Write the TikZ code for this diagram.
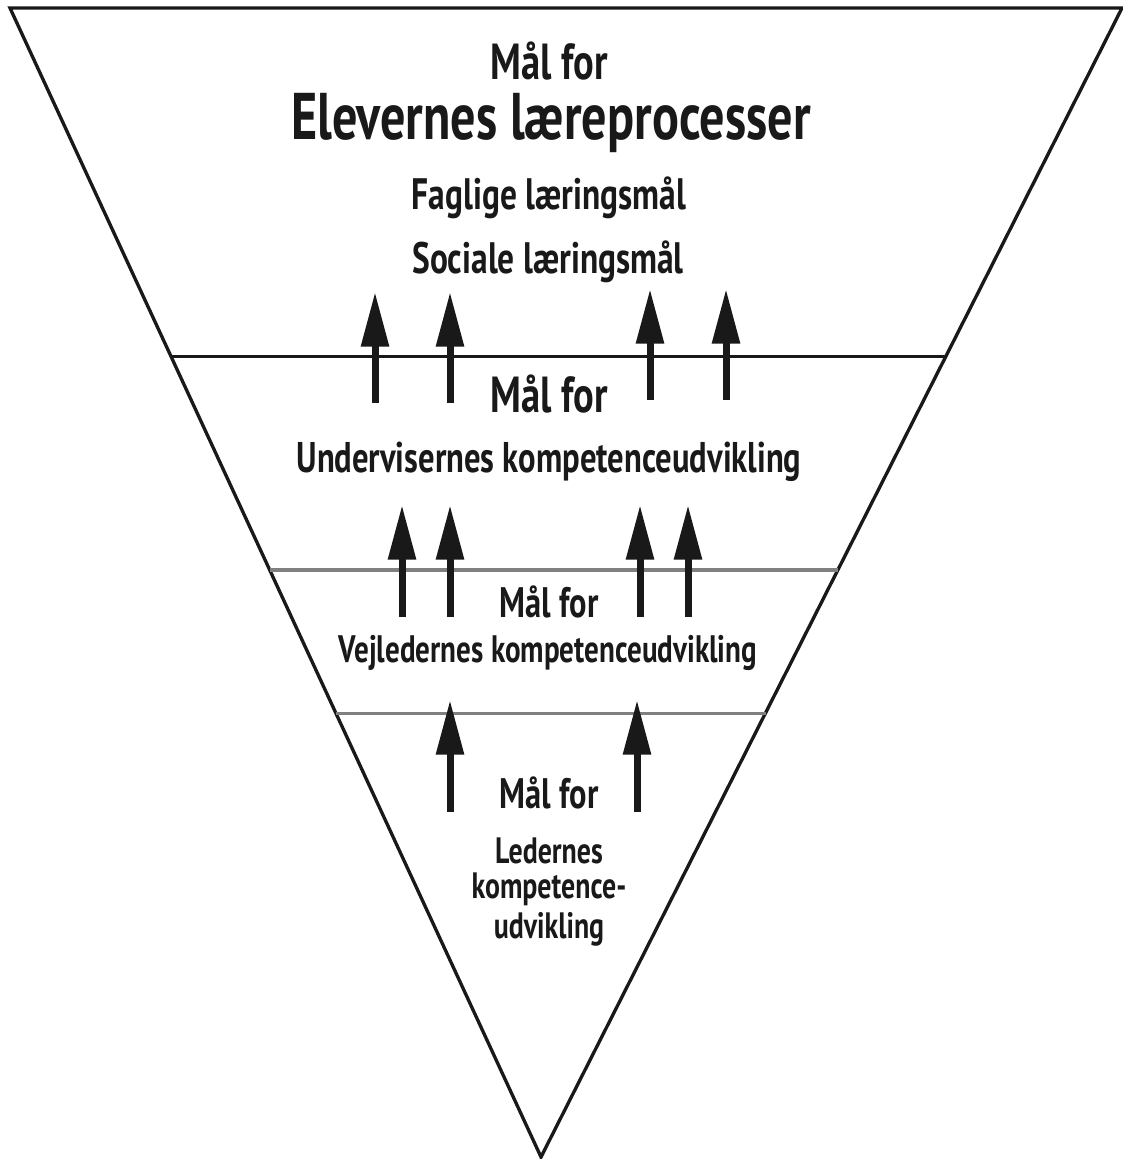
\documentclass[tikz,border=0pt]{standalone}
\usepackage{fontspec}
\setmainfont[FakeStretch=0.76]{PT Sans}
\usetikzlibrary{arrows.meta,calc}

\tikzset{
  txt/.style={font=\bfseries, inner sep=0pt, anchor=base, text=black!90},
  uparrow/.style={line width=5.25pt, -{Triangle[width=20pt,length=41pt]}},
  level/.style={line width=2.3pt},
}

\begin{document}
\begin{tikzpicture}[x=0.75pt,y=-0.75pt]
\useasboundingbox (0,0) rectangle (1123,1159);

% Triangle
\coordinate (tl) at (10,8);
\coordinate (tr) at (1122,8);
\coordinate (apex) at (541,1157);
\draw[line width=2.5pt, line join=miter, black!90] (tl) -- (tr) -- (apex) -- cycle;

% Levels
\draw[level, black!90] ($(tl)!0.3037!(apex)$) -- ($(tr)!0.3037!(apex)$);
\draw[level, black!50] ($(tl)!0.4891!(apex)$) -- ($(tr)!0.4891!(apex)$);
\draw[level, black!50] ($(tl)!0.6136!(apex)$) -- ($(tr)!0.6136!(apex)$);

% Elevernes
\node[txt, font=\bfseries\fontsize{38}{44}\selectfont] (maal1) at (549,80) {Mål for};
\node[txt, font=\bfseries\fontsize{49.5}{56}\selectfont] (elever) at (551,140) {Elevernes læreprocesser};
\node[txt, font=\bfseries\fontsize{33}{38}\selectfont] (faglig) at (549,209) {Faglige læringsmål};
\node[txt, font=\bfseries\fontsize{33}{38}\selectfont] (social) at (548,273) {Sociale læringsmål};

% Undervisernes
\node[txt, font=\bfseries\fontsize{38}{44}\selectfont] (maal2) at (549,412) {Mål for};
\node[txt, font=\bfseries\fontsize{32.2}{38}\selectfont] (undervis) at (549,472) {Undervisernes kompetenceudvikling};

% Vejledernes
\node[txt, font=\bfseries\fontsize{32}{38}\selectfont] (maal3) at (549,617) {Mål for};
\node[txt, font=\bfseries\fontsize{28.7}{34}\selectfont] (vejled) at (548,662) {Vejledernes kompetenceudvikling};

% Ledernes
\node[txt, font=\bfseries\fontsize{32}{38}\selectfont] (maal4) at (549,808) {Mål for};
\node[txt, font=\bfseries\fontsize{27.5}{32}\selectfont] (leder1) at (549,863) {Ledernes};
\node[txt, font=\bfseries\fontsize{27.5}{32}\selectfont] (leder2) at (549,898) {kompetence-};
\node[txt, font=\bfseries\fontsize{27.5}{32}\selectfont] (leder3) at (549,938) {udvikling};

% Arrows
\foreach \x/\a/\b in {375/403/292, 450/403/292, 650/400/289, 726/400/289,
                      402/617/505, 450/617/505, 640/617/505, 688/617/505,
                      450/812/700, 637/812/700} {
  \coordinate (s\x\a) at (\x,\a);
  \coordinate (e\x\a) at (\x,\b);
  \draw[uparrow, black!90] (s\x\a) -- (e\x\a);
}
\end{tikzpicture}
\end{document}
